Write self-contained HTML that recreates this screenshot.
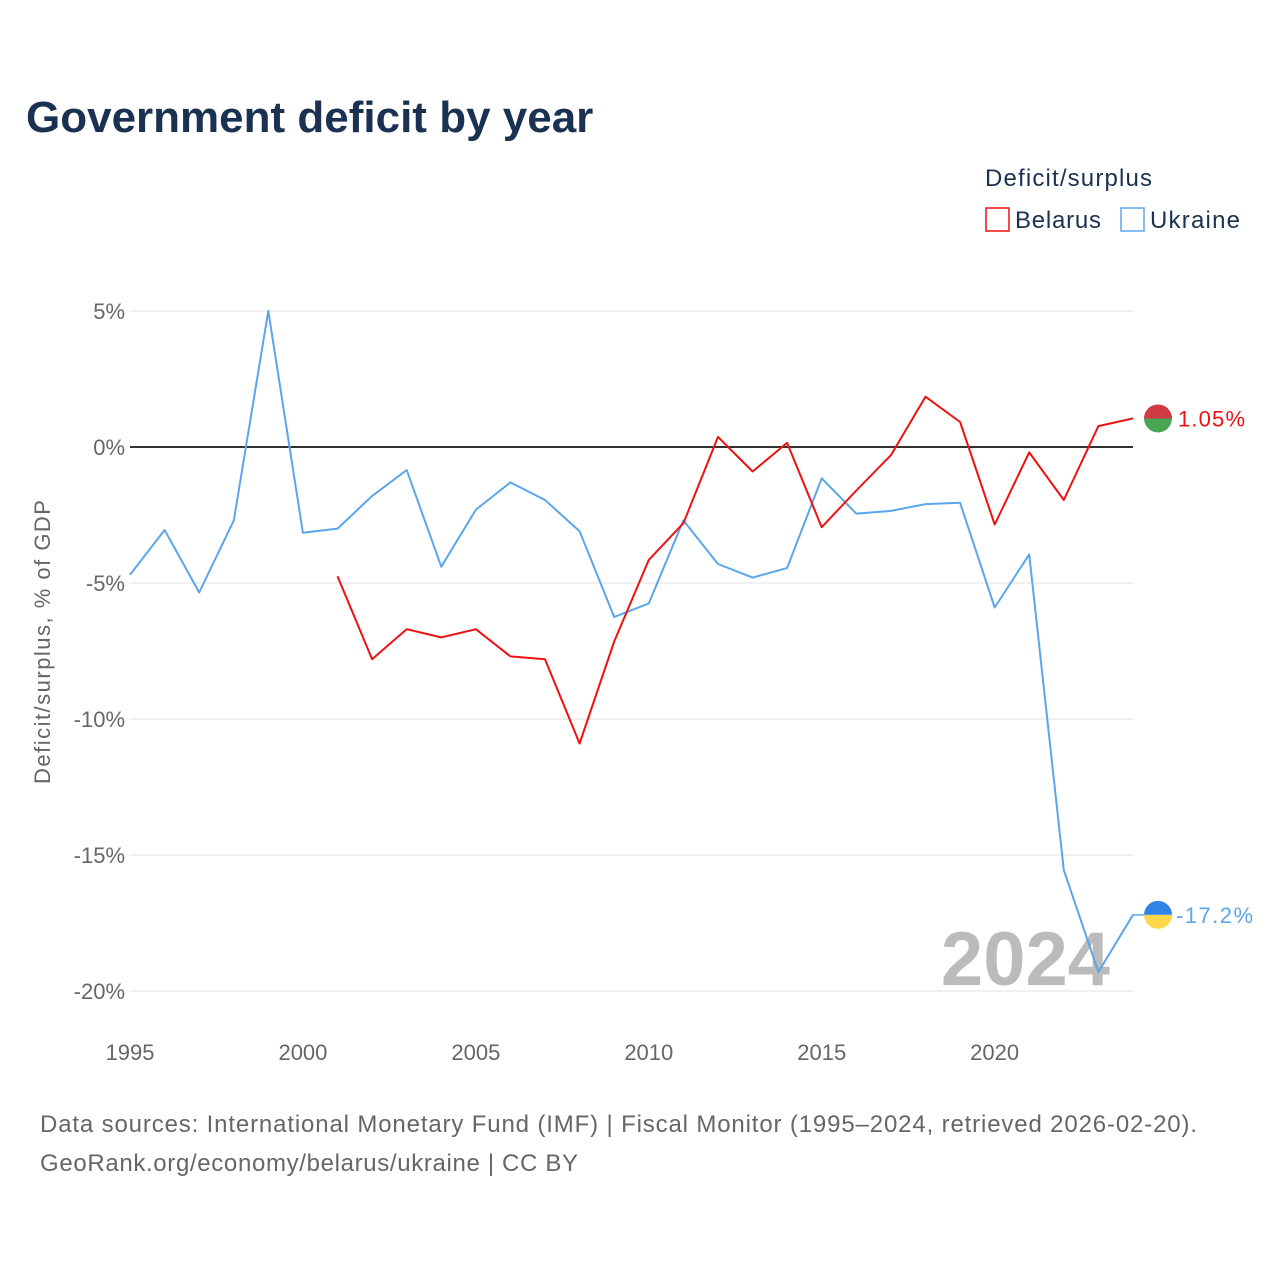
<!DOCTYPE html>
<html><head><meta charset="utf-8">
<style>
body{margin:0;background:#fff;font-family:"Liberation Sans",sans-serif;}
#wrap{position:relative;width:1280px;height:1280px;overflow:hidden;}
</style></head>
<body>
<div id="wrap">
<svg id="chart" width="1280" height="1280">
<text x="26" y="132" font-size="44" font-weight="bold" fill="#1b3152">Government deficit by year</text>
<text x="985" y="186" font-size="24" fill="#1b3152" textLength="167">Deficit/surplus</text>
<g><rect x="986" y="208" width="23" height="23" fill="none" stroke="#ee1111" stroke-width="1.5"/><text x="1015" y="228" font-size="24" fill="#1b3152" textLength="86">Belarus</text></g>
<g><rect x="1121" y="208" width="23" height="23" fill="none" stroke="#5ba6ea" stroke-width="1.5"/><text x="1150" y="228" font-size="24" fill="#1b3152" textLength="90">Ukraine</text></g>
<text transform="translate(50,642) rotate(-90)" text-anchor="middle" font-size="22" fill="#666" textLength="284">Deficit/surplus, % of GDP</text>
<g id="grid"></g><g id="xt"></g>
<text x="1110" y="985" text-anchor="end" font-size="76" font-weight="bold" fill="#bbb">2024</text>
<g id="lines"></g>
<text x="40" y="1132" font-size="24" fill="#666" textLength="1157">Data sources: International Monetary Fund (IMF) | Fiscal Monitor (1995–2024, retrieved 2026-02-20).</text>
<text x="40" y="1171" font-size="24" fill="#666" textLength="538">GeoRank.org/economy/belarus/ukraine | CC BY</text>
</svg></div>
<script>
const years=[1995,1996,1997,1998,1999,2000,2001,2002,2003,2004,2005,2006,2007,2008,2009,2010,2011,2012,2013,2014,2015,2016,2017,2018,2019,2020,2021,2022,2023,2024];
const ukraine=[-4.7,-3.05,-5.35,-2.7,5.0,-3.15,-3.0,-1.8,-0.85,-4.4,-2.3,-1.3,-1.95,-3.1,-6.25,-5.75,-2.7,-4.3,-4.8,-4.45,-1.15,-2.45,-2.35,-2.1,-2.05,-5.9,-3.95,-15.55,-19.3,-17.2];
const belarus=[null,null,null,null,null,null,-4.75,-7.8,-6.7,-7.0,-6.7,-7.7,-7.8,-10.9,-7.15,-4.15,-2.8,0.37,-0.9,0.15,-2.95,-1.6,-0.3,1.85,0.92,-2.85,-0.2,-1.95,0.77,1.05];
const yTicks=[5,0,-5,-10,-15,-20];
const yTickLabels=["5%","0%","-5%","-10%","-15%","-20%"];
const xTicks=[1995,2000,2005,2010,2015,2020];
const NS="http://www.w3.org/2000/svg";
const X=y=>130+(y-1995)*(1133-130)/29;
const Y=v=>447-v*27.2;
function mk(t,a,p){const e=document.createElementNS(NS,t);for(const k in a)e.setAttribute(k,a[k]);p.appendChild(e);return e;}
const grid=document.getElementById('grid'),xt=document.getElementById('xt'),lines=document.getElementById('lines');
yTicks.forEach((v,i)=>{
 const l=mk('line',{x1:130,x2:1133,y1:Y(v),y2:Y(v),stroke:v===0?'#333':'#e6e6e6','stroke-width':v===0?2:1.2},grid);
 
 
 const t=mk('text',{x:125,y:Y(v)+8,'text-anchor':'end','font-size':22,fill:'#666'},grid);t.textContent=yTickLabels[i];
 
 
});
xTicks.forEach(y=>{const t=mk('text',{x:X(y),y:1060,'text-anchor':'middle','font-size':22,fill:'#666'},xt);t.textContent=y;
 
 });
function line(data,color,name){
 let d='';data.forEach((v,i)=>{if(v===null)return;d+=(d?'L':'M')+X(years[i]).toFixed(1)+','+Y(v).toFixed(1);});
 const p=mk('path',{d:d,fill:'none',stroke:color,'stroke-width':2,'stroke-linejoin':'round'},lines);
 
 
}
line(ukraine,'#5ba6ea','ukraine-line');
line(belarus,'#ee1111','belarus-line');
const bl=belarus[belarus.length-1],ul=ukraine[ukraine.length-1];
const bx=1158,by=Y(bl);
mk('path',{d:`M${bx-14},${by} A14,14 0 0 1 ${bx+14},${by} Z`,fill:'#cf3a44'},lines);
const bb=mk('path',{d:`M${bx-14},${by} A14,14 0 0 0 ${bx+14},${by} Z`,fill:'#4aa657'},lines);


const bt=mk('text',{x:1178,y:by+8,'font-size':22,fill:'#ee1111',textLength:67},lines);bt.textContent=bl.toFixed(2)+'%';


const ux=1158,uy=Y(ul);
mk('line',{x1:1133,x2:1144,y1:uy,y2:uy,stroke:'#5ba6ea','stroke-width':1.5},lines);
mk('path',{d:`M${ux-14},${uy} A14,14 0 0 1 ${ux+14},${uy} Z`,fill:'#2f84e8'},lines);
const ub=mk('path',{d:`M${ux-14},${uy} A14,14 0 0 0 ${ux+14},${uy} Z`,fill:'#fcd84a'},lines);


const ut=mk('text',{x:1176,y:uy+8,'font-size':22,fill:'#5ba6ea',textLength:77},lines);ut.textContent=ul.toFixed(1)+'%';


</script>
</body></html>
